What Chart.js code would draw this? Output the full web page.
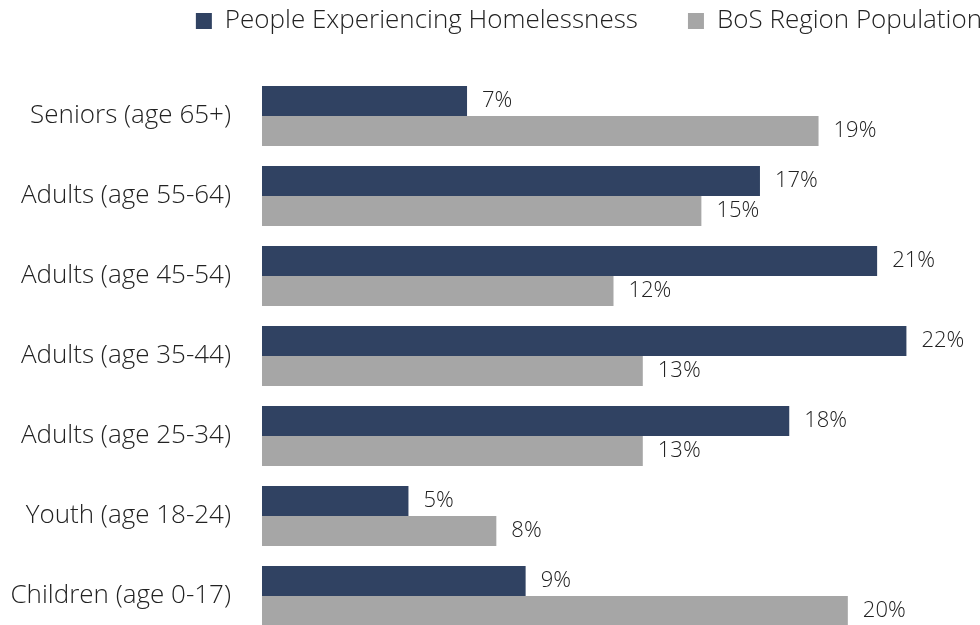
<!DOCTYPE html>
<html>
<head>
<meta charset="utf-8">
<script src="https://cdn.jsdelivr.net/npm/chart.js@4.4.1/dist/chart.umd.min.js"></script>
<style>
  html, body { margin: 0; padding: 0; background: #fff; overflow: hidden; }
  #wrap { width: 980px; height: 636px; }
</style>
</head>
<body>
<div id="wrap"><canvas id="grafico"></canvas></div>
<script>
const categorias = [
  'Seniors (age 65+)',
  'Adults (age 55-64)',
  'Adults (age 45-54)',
  'Adults (age 35-44)',
  'Adults (age 25-34)',
  'Youth (age 18-24)',
  'Children (age 0-17)',
];
const semTeto = [7, 17, 21, 22, 18, 5, 9];
const populacao = [19, 15, 12, 13, 13, 8, 20];

const fonte = '"Open Sans", "Liberation Sans", sans-serif';

// rotulos de valor no fim de cada barra
const rotulos = {
  id: 'rotulos',
  afterDatasetsDraw(chart) {
    const ctx = chart.ctx;
    ctx.save();
    ctx.font = '300 22px ' + fonte;
    ctx.fillStyle = '#222';
    ctx.textBaseline = 'middle';
    chart.data.datasets.forEach((ds, i) => {
      chart.getDatasetMeta(i).data.forEach((bar, j) => {
        ctx.fillText(ds.data[j] + '%', bar.x + 15, bar.y);
      });
    });
    ctx.restore();
  },
};

// legenda: altura fixa e posicao ajustada
const ajusteLegenda = {
  id: 'ajusteLegenda',
  beforeLayout(chart) {
    const leg = chart.legend;
    if (leg && !leg._ajustado) {
      const fit = leg.fit;
      leg.fit = function () {
        fit.call(this);
        this.height = 76;
      };
      leg._ajustado = true;
    }
  },
  afterLayout(chart) {
    const leg = chart.legend;
    leg.top -= 42;
    leg.left += 67;
    leg.right += 67;
  },
};

const ctx = document.getElementById('grafico').getContext('2d');
const grafico = new Chart(ctx, {
  type: 'bar',
  data: {
    labels: categorias,
    datasets: [
      {
        label: 'People Experiencing Homelessness',
        data: semTeto,
        backgroundColor: '#304262',
        categoryPercentage: 0.75,
        barPercentage: 1,
      },
      {
        label: 'BoS Region Population',
        data: populacao,
        backgroundColor: '#A6A6A6',
        categoryPercentage: 0.75,
        barPercentage: 1,
      },
    ],
  },
  options: {
    indexAxis: 'y',
    responsive: true,
    maintainAspectRatio: false,
    animation: false,
    layout: { padding: { top: 0, right: 15, bottom: 0, left: 0 } },
    plugins: {
      legend: {
        position: 'top',
        align: 'end',
        labels: {
          boxWidth: 16,
          boxHeight: 16,
          padding: 50,
          color: '#222',
          font: { family: fonte, size: 26, weight: '300' },
        },
      },
      tooltip: { enabled: false },
    },
    scales: {
      x: {
        display: false,
        min: 0,
        max: 24,
      },
      y: {
        grid: { display: false },
        border: { display: false },
        ticks: {
          padding: 23,
          color: '#222',
          font: { family: fonte, size: 26, weight: '300' },
        },
        afterFit(scale) {
          scale.width = 262;
          scale.paddingTop = 0;
          scale.paddingBottom = 0;
        },
      },
    },
  },
  plugins: [rotulos, ajusteLegenda],
});
</script>
</body>
</html>
